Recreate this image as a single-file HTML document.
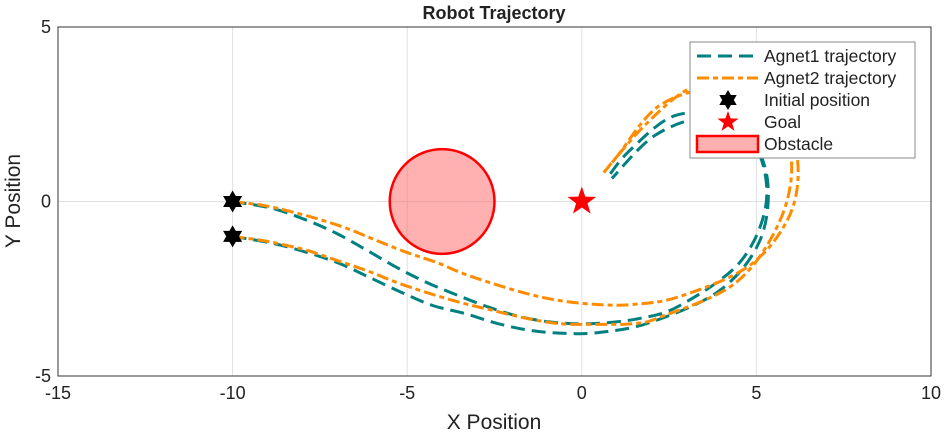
<!DOCTYPE html>
<html><head><meta charset="utf-8"><style>
html,body{margin:0;padding:0;background:#fff;}
svg{display:block;font-family:"Liberation Sans",Arial,sans-serif;}
</style></head><body>
<svg id="chart" width="944" height="432" viewBox="0 0 944 432">
<rect x="0" y="0" width="944" height="432" fill="#fff"/>
<g id="grid"></g>
<g id="obst"></g>
<g id="lines"></g>
<g id="marks"></g>
<g id="axes"></g>
<text x="494" y="19" text-anchor="middle" font-size="18" font-weight="bold" fill="#222">Robot Trajectory</text>
<text x="494" y="429" text-anchor="middle" font-size="21" fill="#222">X Position</text>
<text x="20" y="201" text-anchor="middle" font-size="21" fill="#222" transform="rotate(-90 20 201)">Y Position</text>
<g id="legend">
<rect x="690" y="42" width="225" height="116" fill="#fff" stroke="#888" stroke-width="1"/>
<g>
<line x1="697" y1="56" x2="758" y2="56" stroke="#008080" stroke-width="3" stroke-dasharray="14,7"/>
<text x="764" y="62" font-size="17.5" fill="#222">Agnet1 trajectory</text></g>
<g>
<line x1="697" y1="78" x2="758" y2="78" stroke="#ff8c00" stroke-width="3" stroke-dasharray="12,4,5,4"/>
<text x="764" y="84" font-size="17.5" fill="#222">Agnet2 trajectory</text></g>
<g>
<polygon id="lgHex" fill="#000"/>
<text x="764" y="106" font-size="17.5" fill="#222">Initial position</text></g>
<g>
<polygon id="lgStar" fill="#f00"/>
<text x="764" y="128" font-size="17.5" fill="#222">Goal</text></g>
<g>
<rect x="697" y="136" width="61" height="16" fill="#ffb0b0" stroke="#f00" stroke-width="2.5"/>
<text x="764" y="150" font-size="17.5" fill="#222">Obstacle</text></g>
</g>
</svg>
<script>
const xTicks=[-15,-10,-5,0,5,10];
const yTicks=[-5,0,5];
const agent1PathAX=[-10,-8.85,-7.87,-7.01,-6.15,-5.30,-4.44,-3.55,-2.63,-1.69,-0.72,0.31,1.66,2.81,4.52,5.27,5.04,4.09,2.66,1.37,0.72];
const agent1PathAY=[0,-0.20,-0.54,-0.92,-1.40,-1.89,-2.32,-2.69,-3.04,-3.32,-3.47,-3.50,-3.35,-2.98,-1.75,-0.11,1.46,2.38,2.46,1.46,0.66];
const agent1PathBX=[-10,-8.85,-7.87,-6.93,-6.07,-5.15,-4.27,-3.35,-2.40,-1.43,-0.43,0.52,1.95,3.95,5.10,5.32,4.75,3.52,2.09,0.86];
const agent1PathBY=[-1,-1.20,-1.46,-1.78,-2.18,-2.61,-2.98,-3.21,-3.50,-3.70,-3.78,-3.75,-3.47,-2.55,-1.12,0.60,1.89,2.38,1.89,0.66];
const agent2PathAX=[-10,-9.13,-8.45,-7.59,-6.73,-5.87,-5.01,-4.15,-3.41,-2.55,-1.57,-0.63,0.43,1.46,2.81,4.81,5.95,6.18,5.67,4.24,3.09,1.80,0.63];
const agent2PathAY=[0,-0.11,-0.26,-0.49,-0.77,-1.12,-1.46,-1.75,-2.06,-2.35,-2.64,-2.84,-2.95,-2.95,-2.72,-1.83,-0.40,1.17,2.61,3.32,3.24,2.18,0.83];
const agent2PathBX=[-10,-9.13,-8.45,-7.87,-7.01,-6.16,-5.30,-4.44,-3.49,-2.55,-1.57,-0.63,0.43,1.46,2.23,4.38,5.61,6.01,5.53,3.95,2.23,1.03,0.63];
const agent2PathBY=[-1,-1.12,-1.26,-1.40,-1.69,-1.98,-2.32,-2.61,-2.89,-3.12,-3.35,-3.50,-3.52,-3.50,-3.32,-2.35,-0.69,1.03,2.61,3.24,2.75,1.32,0.83];
const initX=[-10,-10];
const initY=[0,-1];
const goalX=[0];
const goalY=[0];
const obstacleCX=[-4];
const obstacleCY=[0];
const obstacleR=[1.5];

const L=58,R=931,T=27,B=376;
const sx=v=>L+(v+15)/25*(R-L);
const sy=v=>B-(v+5)/10*(B-T);
const NS="http://www.w3.org/2000/svg";
function mk(tag,attrs,parent){const e=document.createElementNS(NS,tag);for(const k in attrs)e.setAttribute(k,attrs[k]);parent.appendChild(e);return e;}
const grid=document.getElementById('grid'),axes=document.getElementById('axes');
xTicks.forEach(t=>{
 if(t>-15&&t<10){const g=mk('line',{x1:sx(t),x2:sx(t),y1:T,y2:B,stroke:'#e0e0e0','stroke-width':1},grid);
 
 }
 const tx=mk('text',{x:sx(t),y:B+23,'text-anchor':'middle','font-size':18,fill:'#222'},axes);
 tx.textContent=t;
 
 
});
yTicks.forEach(t=>{
 if(t>-5&&t<5){const g=mk('line',{x1:L,x2:R,y1:sy(t),y2:sy(t),stroke:'#e0e0e0','stroke-width':1},grid);
 
 }
 const tx=mk('text',{x:L-7,y:sy(t)+6,'text-anchor':'end','font-size':18,fill:'#222'},axes);
 tx.textContent=t;
 
 
});
const fr=mk('rect',{x:L,y:T,width:R-L,height:B-T,fill:'none',stroke:'#333','stroke-width':1},axes);



const ob=document.getElementById('obst');
obstacleCX.forEach((c,i)=>{
 const e=mk('circle',{cx:sx(c),cy:sy(obstacleCY[i]),r:sx(obstacleR[i])-sx(0),fill:'rgba(255,90,90,0.48)',stroke:'#f00','stroke-width':2.5},ob);
 
 
});

function smooth(xs,ys){
 const p=xs.map((x,i)=>[sx(x),sy(ys[i])]);
 let d='M'+p[0][0]+','+p[0][1];
 for(let i=0;i<p.length-1;i++){
  const p0=p[Math.max(0,i-1)],p1=p[i],p2=p[i+1],p3=p[Math.min(p.length-1,i+2)];
  const c1=[p1[0]+(p2[0]-p0[0])/6,p1[1]+(p2[1]-p0[1])/6];
  const c2=[p2[0]-(p3[0]-p1[0])/6,p2[1]-(p3[1]-p1[1])/6];
  d+=' C'+c1+' '+c2+' '+p2;
 }
 return d;
}
const lines=document.getElementById('lines');
[[agent1PathAX,agent1PathAY,'#008080','14,7','agent1-trajectory-a'],
 [agent1PathBX,agent1PathBY,'#008080','14,7','agent1-trajectory-b'],
 [agent2PathAX,agent2PathAY,'#ff8c00','12,4,5,4','agent2-trajectory-a'],
 [agent2PathBX,agent2PathBY,'#ff8c00','12,4,5,4','agent2-trajectory-b']].forEach(s=>{
 const e=mk('path',{d:smooth(s[0],s[1]),fill:'none',stroke:s[2],'stroke-width':3,'stroke-dasharray':s[3]},lines);
 
 
});
function hexPts(cx,cy,r){const a=[];for(let i=0;i<12;i++){const ang=-Math.PI/2+i*Math.PI/6;const rr=i%2?r*0.58:r;a.push((cx+rr*Math.cos(ang)).toFixed(1)+','+(cy+rr*Math.sin(ang)).toFixed(1));}return a.join(' ');}
function starPts(cx,cy,r){const a=[];for(let i=0;i<10;i++){const ang=-Math.PI/2+i*Math.PI/5;const rr=i%2?r*0.4:r;a.push((cx+rr*Math.cos(ang)).toFixed(1)+','+(cy+rr*Math.sin(ang)).toFixed(1));}return a.join(' ');}
const marks=document.getElementById('marks');
initX.forEach((x,i)=>{
 const e=mk('polygon',{points:hexPts(sx(x),sy(initY[i]),11),fill:'#000'},marks);
 
 
});
goalX.forEach((x,i)=>{
 const e=mk('polygon',{points:starPts(sx(x),sy(goalY[i]),15),fill:'#f00'},marks);
 
 
});
document.getElementById('lgHex').setAttribute('points',hexPts(728,100,10));
document.getElementById('lgStar').setAttribute('points',starPts(728,122,11));
</script>
</body></html>
